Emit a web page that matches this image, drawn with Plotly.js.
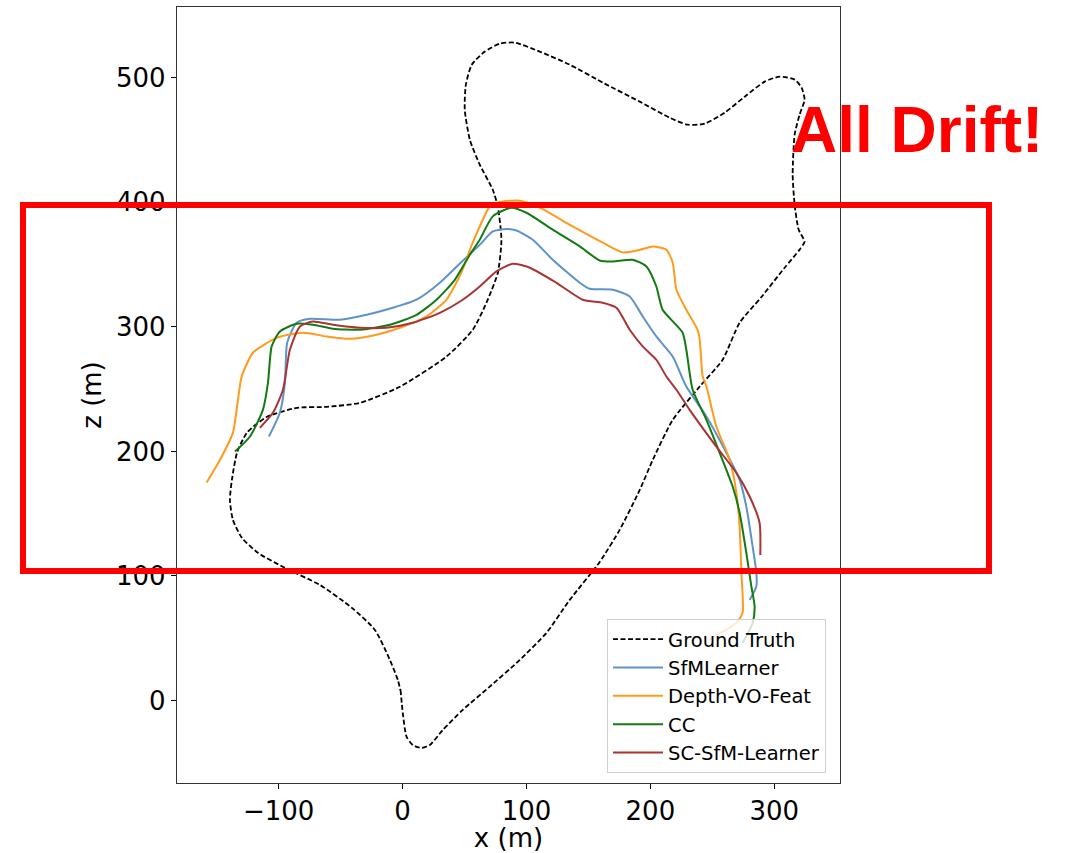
<!DOCTYPE html>
<html>
<head>
<meta charset="utf-8">
<script src="https://cdn.plot.ly/plotly-3.0.1.min.js"></script>
<style>html,body{margin:0;padding:0;background:#fff;}#chart{width:1066px;height:853px;}</style>
</head>
<body>
<div id="chart"></div>
<script>
// Series names
const seriesNames = ["Ground Truth", "SfMLearner", "Depth-VO-Feat", "CC", "SC-SfM-Learner"];

// Ground truth trajectory (x, z in metres)
const gtX = [-1.6,0.2,3.2,8.3,15.3,22.0,32.5,48.6,70.4,94.6,
  116.1,134.9,159.1,175.2,191.4,201.9,218.0,239.8,258.3,272.0,
  289.8,308.3,320.4,324.4,319.6,316.4,314.8,316.4,320.4,324.4,
  322.0,316.4,304.3,292.2,276.1,260.0,243.8,230.1,215.6,191.4,
  163.1,134.9,110.7,90.6,78.5,66.4,55.9,51.1,50.2,54.3,
  62.3,72.8,76.9,79.8,76.9,67.7,56.7,35.5,-2.2,-34.4,
  -61.0,-85.2,-109.4,-125.6,-133.6,-137.7,-139.3,-136.9,-129.6,-116.7,
  -94.9,-66.7,-40.9,-22.3,-10.2,-3.8,-1.4];
const gtZ = [8.5,-10.1,-29.0,-35.7,-38.1,-35.7,-23.6,-7.5,11.2,32.6,
  54.3,80.8,111.3,137.0,169.1,193.2,225.3,252.1,273.6,303.3,
  324.2,347.5,362.0,368.4,378.1,398.1,422.2,454.3,470.4,482.4,
  492.0,498.5,500.9,496.9,484.8,472.0,463.1,462.3,467.9,480.8,
  495.3,510.5,521.0,528.2,527.4,521.0,510.5,494.5,474.4,450.3,
  430.2,410.1,396.4,369.9,343.5,319.4,297.7,276.2,251.9,239.0,
  235.8,235.0,227.8,215.0,198.9,177.2,161.1,145.1,130.6,118.6,
  106.5,92.8,74.4,56.7,32.6,16.5,6.9];

// SfMLearner
const sfmX = [-107.8,-99.0,-94.9,-93.1,-85.5,-74.8,-50.6,-29.0,-7.8,11.3,
  30.1,47.8,62.3,72.8,83.9,91.9,105.1,121.2,143.0,151.0,
  169.6,183.3,193.8,204.8,218.0,229.0,245.2,261.3,272.0,277.4,
  282.5,285.5,285.5,280.1];
const sfmZ = [212.0,231.0,255.1,287.2,303.3,306.5,305.7,309.7,315.3,321.8,
  335.4,352.3,365.9,376.6,378.6,377.4,370.0,353.9,335.4,330.6,
  329.8,324.4,308.4,292.3,276.2,252.1,228.0,198.9,177.2,155.7,
  123.6,102.5,91.5,80.8];

// Depth-VO-Feat
const dvoX = [-158.1,-147.3,-136.9,-132.8,-129.8,-120.7,-101.6,-80.4,-61.3,-42.5,
  -21.0,-2.2,19.4,35.5,47.8,55.9,62.3,70.4,80.9,94.6,
  110.7,137.3,161.5,177.7,191.4,201.9,212.9,218.0,221.0,229.0,
  238.1,239.8,242.2,245.2,253.2,264.0,269.4,272.0,273.4,274.4,
  269.4,258.3,247.8];
const dvoZ = [175.0,193.3,214.9,241.4,260.2,279.2,291.2,295.3,292.3,290.4,
  293.7,299.3,308.4,321.8,344.3,365.9,380.6,396.7,400.7,401.3,
  395.7,380.6,367.6,359.8,361.9,364.6,361.9,351.5,329.8,313.7,
  297.7,289.6,260.2,252.1,220.0,193.3,166.7,139.7,102.5,70.4,
  62.3,55.3,48.7];

// CC
const ccX = [-135.2,-123.1,-112.7,-108.6,-105.6,-99.0,-85.5,-72.3,-56.2,-34.4,
  -10.2,11.3,27.4,42.2,54.3,62.3,72.8,87.9,100.0,121.2,
  143.0,159.1,169.6,185.7,196.8,204.8,209.9,226.0,229.0,234.1,
  245.2,255.9,266.4,272.0,277.4,281.5,284.1,282.5,274.4];
const ccZ = [199.9,212.0,233.4,255.1,284.3,296.3,302.5,301.7,298.5,297.7,
  301.7,309.7,321.8,337.8,357.9,370.0,388.7,395.7,391.6,378.0,
  364.6,353.3,352.5,353.9,348.5,332.4,313.7,295.3,281.6,249.5,
  225.4,198.9,171.8,150.7,118.6,91.5,75.4,62.3,46.3];

// SC-SfM-Learner
const scX = [-115.1,-104.6,-96.5,-90.9,-82.8,-72.3,-56.2,-34.4,-12.9,8.3,
  30.1,48.6,62.3,75.8,89.0,102.7,124.2,145.4,161.5,172.6,
  183.3,193.8,204.8,212.9,221.0,231.7,253.2,269.4,280.1,288.1,
  288.7];
const scZ = [219.0,231.0,249.5,281.6,300.3,304.3,301.7,299.3,299.3,303.3,
  311.3,321.8,332.4,344.5,350.7,347.5,335.4,321.8,319.4,315.3,
  297.7,284.3,273.6,260.2,249.5,233.4,203.9,182.8,163.8,142.7,
  116.9];

// Axis ticks
const tickValsX = [-100, 0, 100, 200, 300];
const tickValsY = [0, 100, 200, 300, 400, 500];
const xRange = [-182, 353];
const yRange = [-66.2, 556.8];

const colors = ["#000000", "#5e93c8", "#ff9a1c", "#137a13", "#a83434"];

function tr(name, x, y, color, dash, w) {
  return {
    type: "scatter", mode: "lines", name: name, x: x, y: y,
    line: {color: color, width: w, dash: dash, shape: "spline", smoothing: 0.6}
  };
}

const data = [
  tr(seriesNames[0], gtX, gtZ, colors[0], "5px,2.5px", 1.8),
  tr(seriesNames[1], sfmX, sfmZ, colors[1], "solid", 2),
  tr(seriesNames[2], dvoX, dvoZ, colors[2], "solid", 2),
  tr(seriesNames[3], ccX, ccZ, colors[3], "solid", 2),
  tr(seriesNames[4], scX, scZ, colors[4], "solid", 2)
];

const tickFont = {family: "DejaVu Sans", size: 26, color: "#000"};

const layout = {
  width: 1066, height: 853,
  margin: {l: 177, r: 226, t: 7, b: 70},
  paper_bgcolor: "#fff", plot_bgcolor: "#fff",
  showlegend: true,
  legend: {
    x: 0.6486, y: 0.0129, xanchor: "left", yanchor: "bottom",
    itemwidth: 50,
    bgcolor: "rgba(255,255,255,0.8)", bordercolor: "#d0d0d0", borderwidth: 1,
    font: {family: "DejaVu Sans", size: 19.5, color: "#000"}
  },
  xaxis: {
    range: xRange, tickvals: tickValsX, ticks: "outside", ticklen: 5, tickwidth: 1, tickcolor: "#000",
    showline: true, mirror: true, linecolor: "#333", linewidth: 1.2,
    showgrid: false, zeroline: false, tickfont: tickFont,
    title: {text: "x (m)", font: tickFont, standoff: 4}
  },
  yaxis: {
    range: yRange, tickvals: tickValsY, ticks: "outside", ticklen: 5, tickwidth: 1, tickcolor: "#000",
    showline: true, mirror: true, linecolor: "#333", linewidth: 1.2,
    showgrid: false, zeroline: false, tickfont: tickFont,
    title: {text: "z (m)", font: tickFont, standoff: 6}
  },
  shapes: [{
    type: "rect", xref: "paper", yref: "paper",
    x0: -0.2323, x1: 1.2247, y0: 0.2732, y1: 0.7448,
    line: {color: "#ff0000", width: 6}, fillcolor: "rgba(0,0,0,0)", layer: "above"
  }],
  annotations: [{
    xref: "paper", yref: "paper", x: 1.116, y: 0.8415,
    xanchor: "center", yanchor: "middle", showarrow: false,
    text: "<b>All Drift!</b>",
    font: {family: "Liberation Sans", size: 64, color: "#ff0000"}
  }]
};

Plotly.newPlot("chart", data, layout, {displayModeBar: false, staticPlot: true});
</script>
</body>
</html>
